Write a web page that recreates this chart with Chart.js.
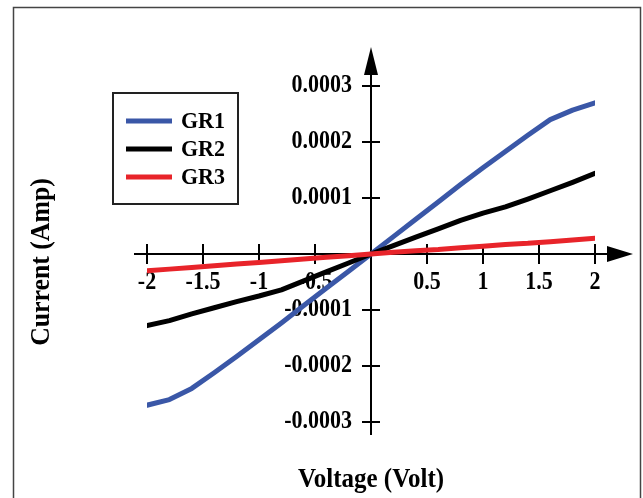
<!DOCTYPE html>
<html><head><meta charset="utf-8">
<script src="https://cdn.jsdelivr.net/npm/chart.js@4.4.0/dist/chart.umd.min.js"></script>
<style>html,body{margin:0;padding:0;background:#fff}canvas{display:block}</style>
</head><body>
<canvas id="c" width="643" height="498"></canvas>
<script>
const voltage = [-2,-1.8,-1.6,-1.4,-1.2,-1,-0.8,-0.6,-0.4,-0.2,0,0.2,0.4,0.6,0.8,1,1.2,1.4,1.6,1.8,2];
const gr1 = [-0.000270,-0.000260,-0.000240,-0.000212,-0.000183,-0.000153,-0.000123,-0.000092,-0.000061,-0.000031,0,
             0.000031,0.000062,0.000093,0.000124,0.000154,0.000183,0.000212,0.000240,0.000257,0.000270];
const gr2 = [-0.000128,-0.000119,-0.000107,-0.000096,-0.000085,-0.000075,-0.000064,-0.000048,-0.000032,-0.000016,0,
             0.000015,0.000030,0.000045,0.000060,0.000073,0.000084,0.000098,0.000113,0.000128,0.000144];
const gr3 = [-0.000030,-0.000027,-0.000024,-0.000021,-0.000018,-0.000015,-0.000012,-0.000009,-0.000006,-0.000003,0,
             0.000003,0.000006,0.000008,0.000011,0.000014,0.000017,0.000019,0.000022,0.000025,0.000028];
const seriesNames = ['GR1','GR2','GR3'];
const seriesColors = ['#3a57a7','#000000','#e8242a'];
const xTickValues = [-2,-1.5,-1,-0.5,0.5,1,1.5,2];
const xTickLabels = ['-2','-1.5','-1','-0.5','0.5','1','1.5','2'];
const yTickValues = [0.0003,0.0002,0.0001,-0.0001,-0.0002,-0.0003];
const yTickLabels = ['0.0003','0.0002','0.0001','-0.0001','-0.0002','-0.0003'];
const xTitle = 'Voltage (Volt)';
const yTitle = 'Current (Amp)';

const FONT = '"Liberation Serif", "Times New Roman", serif';

function tallText(ctx, text, x, y, sy) {
  ctx.save();
  ctx.translate(x, y);
  ctx.scale(1, sy);
  ctx.fillText(text, 0, 0);
  ctx.restore();
}

const axesPlugin = {
  id: 'crossAxes',
  beforeDatasetsDraw(chart) {
    const ctx = chart.ctx, xs = chart.scales.x, ys = chart.scales.y, a = chart.chartArea;
    const x0 = xs.getPixelForValue(0), y0 = ys.getPixelForValue(0);
    ctx.save();
    ctx.strokeStyle = '#000'; ctx.fillStyle = '#000'; ctx.lineWidth = 2;
    // x axis
    const xStart = a.left - 13, xBase = a.right + 12, xTip = a.right + 38;
    ctx.beginPath(); ctx.moveTo(xStart, y0); ctx.lineTo(xBase + 2, y0); ctx.stroke();
    ctx.beginPath(); ctx.moveTo(xTip, y0); ctx.lineTo(xBase, y0 - 8); ctx.lineTo(xBase, y0 + 8); ctx.closePath(); ctx.fill();
    // y axis
    const yEnd = a.bottom + 13, yBase = a.top - 11, yTip = a.top - 39;
    ctx.beginPath(); ctx.moveTo(x0, yEnd); ctx.lineTo(x0, yBase - 2); ctx.stroke();
    ctx.beginPath(); ctx.moveTo(x0, yTip); ctx.lineTo(x0 - 7, yBase); ctx.lineTo(x0 + 7, yBase); ctx.closePath(); ctx.fill();
    // ticks
    xTickValues.forEach(v => {
      const px = xs.getPixelForValue(v);
      ctx.beginPath(); ctx.moveTo(px, y0 - 10); ctx.lineTo(px, y0 + 10); ctx.stroke();
    });
    yTickValues.forEach(v => {
      const py = ys.getPixelForValue(v);
      ctx.beginPath(); ctx.moveTo(x0 - 9, py); ctx.lineTo(x0 + 9, py); ctx.stroke();
    });
    // tick labels
    ctx.font = 'bold 22px ' + FONT;
    ctx.textBaseline = 'middle';
    ctx.textAlign = 'center';
    xTickValues.forEach((v, i) => {
      tallText(ctx, xTickLabels[i], xs.getPixelForValue(v), y0 + 29, 1.12);
    });
    ctx.textAlign = 'right';
    yTickValues.forEach((v, i) => {
      tallText(ctx, yTickLabels[i], x0 - 19, ys.getPixelForValue(v), 1.12);
    });
    // titles
    ctx.font = 'bold 25px ' + FONT;
    ctx.textAlign = 'center';
    tallText(ctx, xTitle, x0, 480, 1.1);
    ctx.save();
    ctx.translate(42, 262);
    ctx.rotate(-Math.PI / 2);
    ctx.scale(1.03, 1.1);
    ctx.fillText(yTitle, 0, 0);
    ctx.restore();
    ctx.restore();
  },
  afterDraw(chart) {
    const ctx = chart.ctx;
    ctx.save();
    // outer frame
    ctx.strokeStyle = '#444'; ctx.lineWidth = 1.5;
    ctx.strokeRect(13.5, 7.5, 627, 520);
    // legend
    ctx.strokeStyle = '#222'; ctx.lineWidth = 2;
    ctx.strokeRect(113, 93, 125, 111);
    ctx.font = 'bold 22px ' + FONT;
    ctx.textAlign = 'left'; ctx.textBaseline = 'middle';
    chart.data.datasets.forEach((ds, i) => {
      const y = 121 + i * 28;
      ctx.strokeStyle = ds.borderColor; ctx.lineWidth = 5;
      ctx.beginPath(); ctx.moveTo(126, y); ctx.lineTo(172, y); ctx.stroke();
      ctx.fillStyle = '#000';
      tallText(ctx, ds.label, 181, y + 1, 1.05);
    });
    ctx.restore();
  }
};

const mk = (vals) => voltage.map((v, i) => ({x: v, y: vals[i]}));

new Chart(document.getElementById('c'), {
  type: 'line',
  data: {
    datasets: [
      {label: seriesNames[0], data: mk(gr1), borderColor: seriesColors[0], order: 2},
      {label: seriesNames[1], data: mk(gr2), borderColor: seriesColors[1], order: 1},
      {label: seriesNames[2], data: mk(gr3), borderColor: seriesColors[2], order: 0}
    ]
  },
  options: {
    responsive: false,
    animation: false,
    events: [],
    layout: {padding: {left: 147, right: 48, top: 86, bottom: 76}},
    elements: {
      line: {borderWidth: 5, tension: 0, fill: false, borderCapStyle: 'round', borderJoinStyle: 'round'},
      point: {radius: 0}
    },
    plugins: {legend: {display: false}, tooltip: {enabled: false}},
    scales: {
      x: {type: 'linear', min: -2, max: 2, display: false},
      y: {type: 'linear', min: -0.0003, max: 0.0003, display: false}
    }
  },
  plugins: [axesPlugin]
});
</script>
</body></html>
